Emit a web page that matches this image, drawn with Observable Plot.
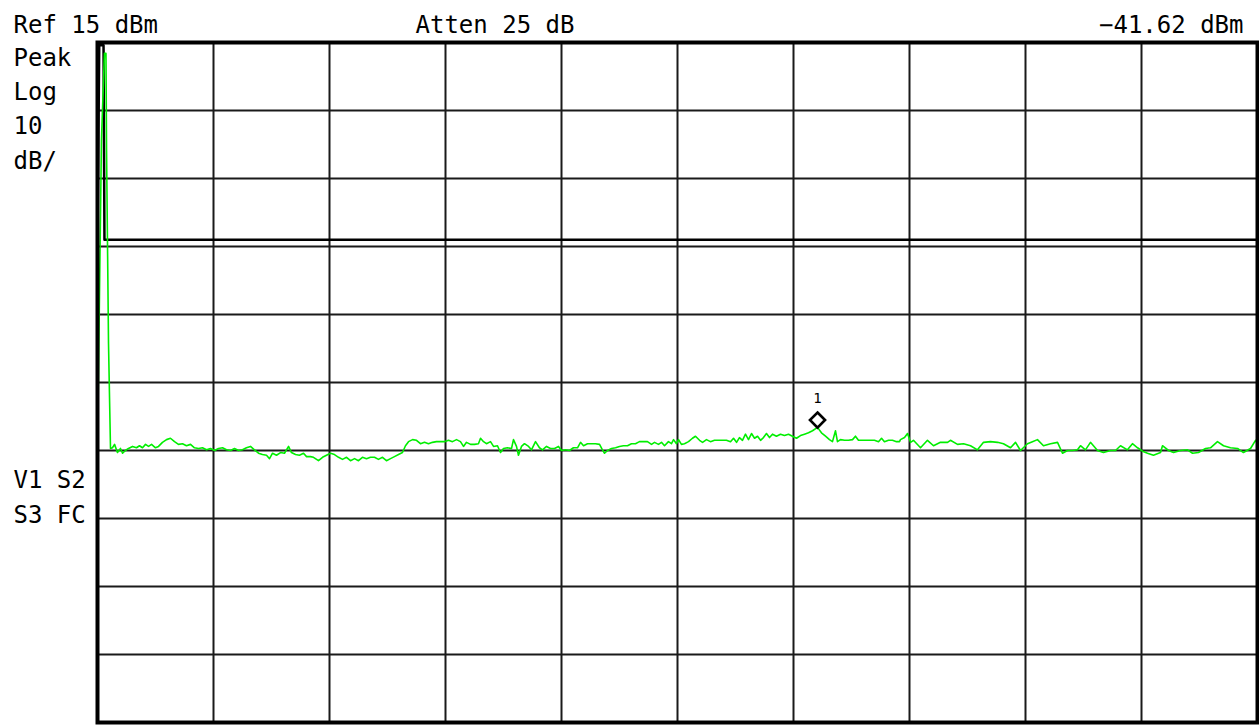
<!DOCTYPE html>
<html>
<head>
<meta charset="utf-8">
<script src="https://cdn.jsdelivr.net/npm/d3@7"></script>
<script src="https://cdn.jsdelivr.net/npm/@observablehq/plot@0.6"></script>
<style>
  html, body { margin: 0; padding: 0; background: #fff; }
  #chart svg { display: block; }
</style>
</head>
<body>
<div id="chart"></div>
<script>
// ---- Instrument settings / annotations ----
const refLevelDbm = 15;
const dbPerDiv = 10;
const spanMHz = 1000;
const headerLeft = "Ref 15 dBm";
const headerCenter = "Atten 25 dB";
const headerRight = "\u221241.62 dBm";
const sideTop = "Peak\nLog\n10\ndB/";
const sideBottom = "V1 S2\nS3 FC";

// ---- Grid divisions ----
const xDivs = [0, 100, 200, 300, 400, 500, 600, 700, 800, 900, 1000];
const yDivs = [15, 5, -5, -15, -25, -35, -45, -55, -65, -75, -85];

// ---- Trace 1 (green) : frequency (MHz from start) and level (dBm) ----
const trace1Freq = [
  0, 3.4, 6.0, 7.3, 7.8, 9.5, 11.2, 12.9, 14.7, 17.2, 19.8, 21.6, 24.1, 26.7, 30.2, 33.6,
  36.2, 38.8, 41.4, 44.0, 46.6, 50.0, 52.6, 56.0, 59.5, 62.9, 66.4, 69.8, 73.3, 76.7, 80.2,
  83.6, 87.1, 90.5, 94.0, 97.4, 100.9, 104.3, 107.8, 111.2, 114.7, 118.1, 121.6, 125.0, 128.4,
  131.9, 135.3, 138.8, 142.2, 145.7, 148.3, 150.9, 154.3, 157.8, 161.2, 164.7, 167.2, 170.7,
  174.1, 177.6, 180.2, 183.6, 186.2, 190.5, 194.0, 197.4, 200.9, 204.3, 207.8, 211.2, 214.7,
  218.1, 221.6, 225.0, 228.4, 231.9, 235.3, 238.8, 242.2, 245.7, 249.1, 252.6, 256.0, 259.5,
  262.9, 265.5, 268.1, 271.6, 275.0, 278.4, 281.9, 285.3, 288.8, 292.2, 295.7, 299.1, 302.6,
  306.0, 309.5, 312.9, 315.5, 318.1, 321.6, 325.0, 328.4, 330.2, 332.8, 335.3, 338.8, 341.4,
  344.8, 347.4, 350.0, 353.4, 356.9, 358.6, 361.2, 362.9, 365.5, 368.1, 371.6, 374.1, 377.6,
  381.0, 383.6, 387.1, 390.5, 394.0, 397.4, 400.0, 403.4, 406.9, 410.3, 413.8, 416.4, 419.0,
  422.4, 425.9, 429.3, 432.8, 435.3, 437.1, 439.7, 443.1, 446.6, 450.0, 453.4, 456.9, 460.3,
  463.8, 467.2, 470.7, 474.1, 477.6, 480.2, 483.6, 486.2, 488.8, 492.2, 494.8, 496.6, 499.1,
  500.9, 503.4, 506.0, 509.5, 512.9, 515.5, 519.0, 521.6, 525.0, 528.4, 531.9, 535.3, 538.8,
  542.2, 545.7, 548.3, 550.9, 553.4, 556.0, 558.6, 561.2, 563.8, 566.4, 569.0, 571.6, 574.1,
  576.7, 579.3, 581.9, 585.3, 588.8, 592.2, 595.7, 599.1, 602.6, 606.0, 609.5, 612.9, 616.4,
  620.7, 624.1, 627.6, 631.0, 633.6, 636.2, 637.9, 640.5, 644.0, 647.4, 650.9, 653.4, 656.0,
  659.5, 662.9, 666.4, 669.8, 673.3, 675.9, 678.4, 681.9, 685.3, 688.8, 691.4, 692.2, 695.7,
  698.3, 700.9, 703.4, 709.5, 715.5, 720.7, 726.7, 732.8, 735.3, 741.4, 746.6, 752.6, 758.6,
  763.8, 769.8, 775.9, 781.0, 787.1, 791.4, 795.7, 801.7, 806.0, 810.3, 815.5, 821.6, 827.6,
  831.9, 836.2, 840.5, 844.8, 847.4, 851.7, 856.0, 862.1, 867.2, 873.3, 877.6, 881.9, 887.9,
  892.2, 896.6, 900.9, 905.2, 910.3, 916.4, 918.1, 923.3, 927.6, 933.6, 939.7, 944.0, 949.1,
  955.2, 959.5, 965.5, 970.7, 976.7, 982.8, 987.9, 994.0, 998.3, 1000
];
const trace1Dbm = [
  -45.0, 0.6, 13.4, 13.4, -0.9, -29.3, -44.7, -44.6, -44.1, -45.3, -44.7, -45.4, -45.0, -44.7, -44.4, -44.6,
  -44.3, -44.6, -44.1, -44.4, -44.1, -44.6, -44.4, -43.8, -43.4, -43.2, -43.7, -44.1, -44.0, -44.3, -44.1,
  -44.6, -44.7, -44.6, -44.9, -44.7, -45.0, -44.7, -44.6, -44.9, -45.0, -44.7, -45.0, -44.9, -44.6,
  -44.4, -44.9, -45.4, -45.6, -45.7, -46.2, -45.4, -45.7, -45.3, -45.4, -44.4, -45.3, -45.6,
  -45.7, -45.4, -45.9, -45.9, -46.0, -46.5, -46.0, -45.7, -45.4, -45.6, -46.0, -46.3, -46.0,
  -46.5, -46.2, -46.5, -46.0, -46.2, -46.0, -46.0, -46.3, -46.0, -46.5, -46.2, -45.9, -45.6,
  -45.3, -44.3, -43.7, -43.4, -43.5, -44.0, -43.8, -44.0, -43.8, -43.7, -43.7, -43.7, -43.5,
  -43.7, -43.4, -43.7, -44.4, -43.8, -44.1, -44.1, -44.0, -43.2, -43.7, -44.0, -43.7, -44.4,
  -44.3, -45.3, -44.7, -44.6, -44.7, -43.4, -44.4, -45.7, -44.4, -44.0, -44.4, -44.9, -43.7,
  -44.6, -44.9, -44.4, -44.7, -44.7, -44.4, -45.0, -44.9, -45.0, -44.6, -44.6, -43.8, -44.3,
  -44.0, -44.0, -44.0, -44.1, -44.9, -45.4, -45.0, -44.7, -44.6, -44.4, -44.3, -44.3, -44.0,
  -44.0, -43.7, -43.7, -43.7, -44.1, -43.8, -44.1, -43.8, -44.3, -43.7, -44.0, -43.4, -44.0,
  -43.4, -44.1, -44.0, -43.7, -43.2, -42.9, -43.5, -43.8, -43.4, -43.7, -43.5, -43.5, -43.5,
  -43.5, -43.7, -43.2, -43.8, -43.1, -43.5, -42.6, -43.4, -42.5, -43.2, -42.9, -43.5, -43.1,
  -42.5, -43.1, -42.6, -42.9, -42.6, -42.8, -42.6, -42.9, -43.2, -42.8, -42.6, -42.4, -42.1,
  -41.6, -42.4, -42.9, -43.4, -43.7, -42.1, -43.7, -43.4, -43.5, -43.5, -43.4, -42.9, -43.5,
  -43.5, -43.5, -43.5, -43.5, -43.7, -43.2, -43.7, -43.5, -43.5, -43.7, -43.7, -43.4, -43.1,
  -42.5, -43.8, -43.5, -44.6, -43.5, -44.3, -43.8, -43.8, -43.5, -44.1, -44.0, -44.3, -44.9,
  -43.8, -43.7, -43.8, -44.0, -44.6, -43.8, -45.0, -44.0, -43.7, -43.4, -44.3, -44.0, -43.8,
  -45.4, -45.0, -45.0, -44.9, -44.3, -44.9, -43.8, -45.0, -45.3, -45.0, -45.0, -44.3, -44.9,
  -44.0, -44.6, -45.1, -45.4, -45.7, -45.3, -44.3, -45.0, -45.3, -45.0, -44.9, -45.4, -45.3,
  -44.7, -44.6, -43.7, -44.3, -44.6, -44.7, -45.3, -44.7, -43.5, -44.0
];

// ---- Trace 2 (black) ----
const trace2Freq = [0, 1.5, 5.2, 6.0, 1000];
const trace2Dbm = [-14.0, 14.6, 14.6, -14.0, -14.0];

// ---- Marker 1 ----
const markerFreq = [620.7];
const markerDbm = [-41.62];
const markerLabel = ["1"];

const trace1 = trace1Freq.map((f, i) => ({f, dbm: trace1Dbm[i]}));
const trace2 = trace2Freq.map((f, i) => ({f, dbm: trace2Dbm[i]}));
const markers = markerFreq.map((f, i) => ({f, dbm: markerDbm[i], label: markerLabel[i]}));

const mono = "DejaVu Sans Mono, Liberation Mono, monospace";

const chart = Plot.plot({
  width: 1259,
  height: 726,
  marginLeft: 97,
  marginRight: 2,
  marginTop: 42,
  marginBottom: 4,
  x: {domain: [0, spanMHz], axis: null},
  y: {domain: [refLevelDbm - 10 * dbPerDiv, refLevelDbm], axis: null},
  style: {background: "#fff", overflow: "visible"},
  marks: [
    Plot.ruleX(xDivs, {stroke: "#1a1a1a", strokeWidth: 2}),
    Plot.ruleY(yDivs, {stroke: "#1a1a1a", strokeWidth: 2}),
    Plot.line(trace2, {x: "f", y: "dbm", stroke: "#000", strokeWidth: 2.5}),
    Plot.line(trace1, {x: "f", y: "dbm", stroke: "#00ee00", strokeWidth: 1.6}),
    Plot.frame({stroke: "#000", strokeWidth: 4}),
    Plot.dot(markers, {x: "f", y: "dbm", symbol: "diamond2", r: 6.8, stroke: "#000", strokeWidth: 2.6, fill: "#fff", dy: -7.5}),
    Plot.text(markers, {x: "f", y: "dbm", text: "label", dy: -29, fontFamily: mono, fontSize: 14, fill: "#000"}),
    Plot.text([headerLeft], {frameAnchor: "top-left", textAnchor: "start", lineAnchor: "bottom", dx: -84, dy: -10, fontFamily: mono, fontSize: 24, fill: "#000"}),
    Plot.text([headerCenter], {frameAnchor: "top-left", textAnchor: "start", lineAnchor: "bottom", dx: 318, dy: -10, fontFamily: mono, fontSize: 24, fill: "#000"}),
    Plot.text([headerRight], {frameAnchor: "top-right", textAnchor: "end", lineAnchor: "bottom", dx: -14, dy: -10, fontFamily: mono, fontSize: 24, fill: "#000"}),
    Plot.text([sideTop], {frameAnchor: "top-left", textAnchor: "start", lineAnchor: "bottom", lineHeight: 1.43, dx: -84, dy: 126, fontFamily: mono, fontSize: 24, fill: "#000"}),
    Plot.text([sideBottom], {frameAnchor: "top-left", textAnchor: "start", lineAnchor: "bottom", lineHeight: 1.43, dx: -84, dy: 480, fontFamily: mono, fontSize: 24, fill: "#000"})
  ]
});
document.getElementById("chart").appendChild(chart);
</script>
</body>
</html>
